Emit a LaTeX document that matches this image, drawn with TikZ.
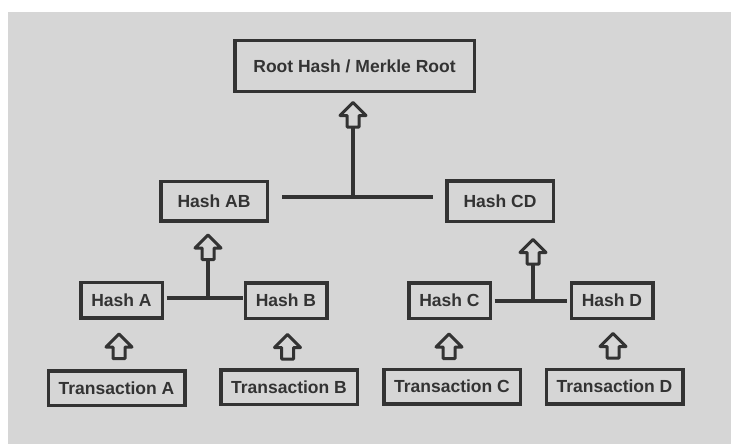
\documentclass[tikz,border=0pt]{standalone}
\usepackage{fontspec}
\setmainfont{Liberation Sans}
\definecolor{bg}{HTML}{D6D6D6}
\definecolor{dark}{HTML}{333333}
\tikzset{
  box/.style={draw=dark, line width=3.5pt, inner sep=0pt, text=dark,
    font=\bfseries\fontsize{17.5}{20}\selectfont, text height=12.5pt, text depth=0pt},
  hbox/.style={box, minimum width=81.5pt, minimum height=35.5pt},
  tbox/.style={box, minimum width=136.5pt, minimum height=34.5pt},
  conn/.style={draw=dark, line width=3.5pt},
  arrline/.style={draw=dark, line width=3pt, line join=round},
  uparr/.pic={
    \draw[arrline] (0,-12) -- (13,1) -- (6,1) -- (6,12.5) -- (-6,12.5) -- (-6,1) -- (-13,1) -- cycle;
    \coordinate (-bot) at (0,12.5);
  }
}
\begin{document}
\begin{tikzpicture}[x=1pt,y=-1pt]
  \useasboundingbox (0,0) rectangle (731,444);
  \fill[white] (0,0) rectangle (731,444);
  \fill[bg] (8,12) rectangle (731,444);

  % boxes
  \node[box, minimum width=239.5pt, minimum height=50.5pt] (root) at (354.5,66) {Root Hash / Merkle Root};
  \node[box, minimum width=106.5pt, minimum height=39.5pt] (hAB) at (214,201) {Hash AB};
  \node[box, minimum width=106.5pt, minimum height=40.5pt] (hCD) at (500,201) {Hash CD};
  \node[hbox] (hA) at (121.5,300) {Hash A};
  \node[hbox] (hB) at (286,300.5) {Hash B};
  \node[hbox] (hC) at (449.5,300.5) {Hash C};
  \node[hbox] (hD) at (612,300.5) {Hash D};
  \node[tbox] (tA) at (116.5,388) {Transaction A};
  \node[tbox] (tB) at (289,387) {Transaction B};
  \node[tbox] (tC) at (452,386.5) {Transaction C};
  \node[tbox] (tD) at (614.5,386.5) {Transaction D};

  % hollow arrows
  \pic (aR) at (353,114.5) {uparr};
  \pic (aAB) at (208,247) {uparr};
  \pic (aCD) at (533,251.5) {uparr};
  \pic (aA) at (119,346) {uparr};
  \pic (aB) at (287.5,346.5) {uparr};
  \pic (aC) at (449,346) {uparr};
  \pic (aD) at (613,345.5) {uparr};

  % junctions
  \coordinate (jR) at (353,197);
  \coordinate (jAB) at (208,298);
  \coordinate (jCD) at (533,301);

  % connectors
  \draw[conn, shorten <=13pt, shorten >=12pt] (hAB.east |- jR) -- (hCD.west |- jR);
  \draw[conn] (jR) -- (aR-bot);
  \draw[conn, shorten <=2.5pt, shorten >=1pt] (hA.east |- jAB) -- (hB.west |- jAB);
  \draw[conn] (jAB) -- (aAB-bot);
  \draw[conn, shorten <=2.5pt, shorten >=2.5pt] (hC.east |- jCD) -- (hD.west |- jCD);
  \draw[conn] (jCD) -- (aCD-bot);
\end{tikzpicture}
\end{document}
